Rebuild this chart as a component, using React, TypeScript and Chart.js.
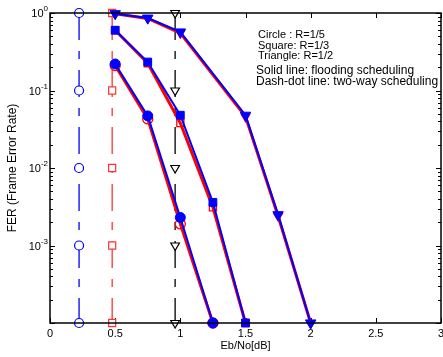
import { useEffect, useRef } from 'react';
import { Chart, registerables } from 'chart.js';

Chart.register(...registerables);

// Eb/No values (dB)
const circleX = [0.5, 0.75, 1.0, 1.25];
const squareX = [0.5, 0.75, 1.0, 1.25, 1.5];
const triangleX = [0.5, 0.75, 1.0, 1.5, 1.75, 2.0];

// FER values, solid (blue, filled markers)
const circleBlue = [0.22, 0.047, 0.0023, 0.0001];
const squareBlue = [0.6, 0.233, 0.048, 0.0036, 0.0001];
const triangleBlue = [0.98, 0.86, 0.57, 0.048, 0.0025, 0.0001];

// FER values, red (hollow markers)
const circleRed = [0.21, 0.043, 0.0019, 0.0001];
const squareRed = [0.6, 0.225, 0.038, 0.0031, 0.0001];
const triangleRed = [0.98, 0.85, 0.55, 0.046, 0.0024, 0.0001];

// dash-dot vertical lines (two-way scheduling)
const dashCircleX = 0.223;
const dashSquareX = 0.477;
const dashTriangleX = 0.96;
const dashLevels = [1, 0.1, 0.01, 0.001, 0.0001];

const xTickLabels = ['0', '0.5', '1', '1.5', '2', '2.5', '3'];
const yTickExponents = [0, -1, -2, -3];
const annotationLines = ['Circle : R=1/5', 'Square: R=1/3', 'Triangle: R=1/2'];
const annotationLines2 = ['Solid line: flooding scheduling', 'Dash-dot line: two-way scheduling'];

const FONT = '"Liberation Sans", Arial, sans-serif';

const pts = (xs: number[], ys: number[]) => xs.map((x, i) => ({ x, y: ys[i] }));

const axesPlugin = {
  id: 'matlabAxes',
  beforeDatasetsDraw(chart: any) {
    const { ctx, chartArea } = chart;
    const { left, right, top, bottom } = chartArea;
    const xs = chart.scales.x;
    const ys = chart.scales.y;
    ctx.save();
    ctx.strokeStyle = '#000';
    ctx.lineWidth = 1;
    for (let d = -4; d <= 0; d++) {
      for (let m = 1; m <= 9; m++) {
        const v = m * Math.pow(10, d);
        if (v > 1.0000001) break;
        const py = Math.round(ys.getPixelForValue(v)) + 0.5;
        const len = m === 1 ? 5 : 3;
        ctx.beginPath();
        ctx.moveTo(left, py);
        ctx.lineTo(left + len, py);
        ctx.moveTo(right, py);
        ctx.lineTo(right - len, py);
        ctx.stroke();
      }
    }
    for (let i = 0; i < xTickLabels.length; i++) {
      const px = Math.round(xs.getPixelForValue(i * 0.5)) + 0.5;
      ctx.beginPath();
      ctx.moveTo(px, bottom);
      ctx.lineTo(px, bottom - 5);
      ctx.moveTo(px, top);
      ctx.lineTo(px, top + 5);
      ctx.stroke();
    }
    ctx.restore();
  },
  afterDraw(chart: any) {
    const { ctx, chartArea } = chart;
    const { left, right, top, bottom } = chartArea;
    const xs = chart.scales.x;
    const ys = chart.scales.y;
    ctx.save();
    ctx.strokeStyle = '#000';
    ctx.lineWidth = 1.5;
    ctx.strokeRect(left, top, right - left, bottom - top);

    ctx.fillStyle = '#000';
    ctx.font = `11px ${FONT}`;
    ctx.textAlign = 'center';
    ctx.textBaseline = 'middle';
    xTickLabels.forEach((lab, i) => {
      ctx.fillText(lab, xs.getPixelForValue(i * 0.5), bottom + 11);
    });
    yTickExponents.forEach((e) => {
      const py = ys.getPixelForValue(Math.pow(10, e));
      const expStr = e === 0 ? '0' : '-' + Math.abs(e);
      ctx.font = `8px ${FONT}`;
      const ew = ctx.measureText(expStr).width;
      ctx.textAlign = 'left';
      ctx.textBaseline = 'middle';
      const endX = left - 2;
      ctx.fillText(expStr, endX - ew, py - 4);
      ctx.font = `11px ${FONT}`;
      ctx.textAlign = 'right';
      ctx.fillText('10', endX - ew, py + 1);
    });
    ctx.font = `11px ${FONT}`;
    ctx.textAlign = 'center';
    ctx.textBaseline = 'middle';
    ctx.fillText('Eb/No[dB]', (left + right) / 2, bottom + 23);
    ctx.save();
    ctx.translate(13, (top + bottom) / 2);
    ctx.rotate(-Math.PI / 2);
    ctx.font = `12px ${FONT}`;
    ctx.fillText('FER (Frame Error Rate)', 0, 0);
    ctx.restore();
    ctx.textAlign = 'left';
    ctx.textBaseline = 'middle';
    ctx.font = `11px ${FONT}`;
    annotationLines.forEach((t, i) => ctx.fillText(t, 258, 35 + i * 10.7));
    ctx.font = `12px ${FONT}`;
    annotationLines2.forEach((t, i) => ctx.fillText(t, 256, 71 + i * 10.5));
    ctx.restore();
  },
};

const solid = (label: string, data: any[], color: string, style: string, filled: boolean, width: number, radius: number) => ({
  label,
  data,
  borderColor: color,
  backgroundColor: filled ? color : 'rgba(0,0,0,0)',
  pointBackgroundColor: filled ? color : 'rgba(0,0,0,0)',
  pointBorderColor: color,
  pointStyle: style,
  pointRotation: style === 'triangle' ? 180 : 0,
  pointRadius: radius,
  pointBorderWidth: filled ? 1 : 1.3,
  borderWidth: width,
  showLine: true,
  tension: 0,
  clip: false as any,
});

const dashed = (label: string, xv: number, color: string, style: string, radius: number) => ({
  label,
  data: dashLevels.map((y) => ({ x: xv, y })),
  borderColor: color,
  backgroundColor: 'rgba(0,0,0,0)',
  pointBackgroundColor: '#fff',
  pointBorderColor: color,
  pointStyle: style,
  pointRotation: style === 'triangle' ? 180 : 0,
  pointRadius: radius,
  pointBorderWidth: 1.2,
  borderWidth: 1.3,
  borderDash: [27, 11, 8, 11],
  showLine: true,
  tension: 0,
  clip: false as any,
});

export default function App() {
  const ref = useRef<HTMLCanvasElement>(null);
  useEffect(() => {
    if (!ref.current) return;
    const chart = new Chart(ref.current, {
      type: 'scatter',
      data: {
        // lower index is drawn on top
        datasets: [
          solid('blue circle', pts(circleX, circleBlue), '#0000ff', 'circle', true, 2, 5),
          solid('blue square', pts(squareX, squareBlue), '#0000ff', 'rect', true, 2, 5.5),
          solid('blue triangle', pts(triangleX, triangleBlue), '#0000ff', 'triangle', true, 2, 6),
          solid('red circle', pts(circleX, circleRed), '#ff0000', 'circle', false, 3, 5),
          solid('red square', pts(squareX, squareRed), '#ff0000', 'rect', false, 3, 5),
          solid('red triangle', pts(triangleX, triangleRed), '#ff0000', 'triangle', false, 3, 5),
          dashed('dash circle', dashCircleX, '#0000ff', 'circle', 4.5),
          dashed('dash square', dashSquareX, '#ff3333', 'rect', 5),
          dashed('dash triangle', dashTriangleX, '#000000', 'triangle', 5),
        ] as any,
      },
      options: {
        animation: false,
        responsive: false,
        maintainAspectRatio: false,
        layout: { autoPadding: false, padding: { left: 50, top: 13, right: 2, bottom: 34 } },
        plugins: { legend: { display: false }, tooltip: { enabled: false } },
        scales: {
          x: { type: 'linear', min: 0, max: 3, display: false },
          y: { type: 'logarithmic', min: 0.0001, max: 1, display: false },
        },
      },
      plugins: [axesPlugin],
    });
    return () => chart.destroy();
  }, []);
  return (
    <div style={{ position: 'absolute', left: 0, top: 0, width: 443, height: 357, background: '#fff' }}>
      <canvas ref={ref} width={443} height={357} style={{ display: 'block' }} />
    </div>
  );
}
